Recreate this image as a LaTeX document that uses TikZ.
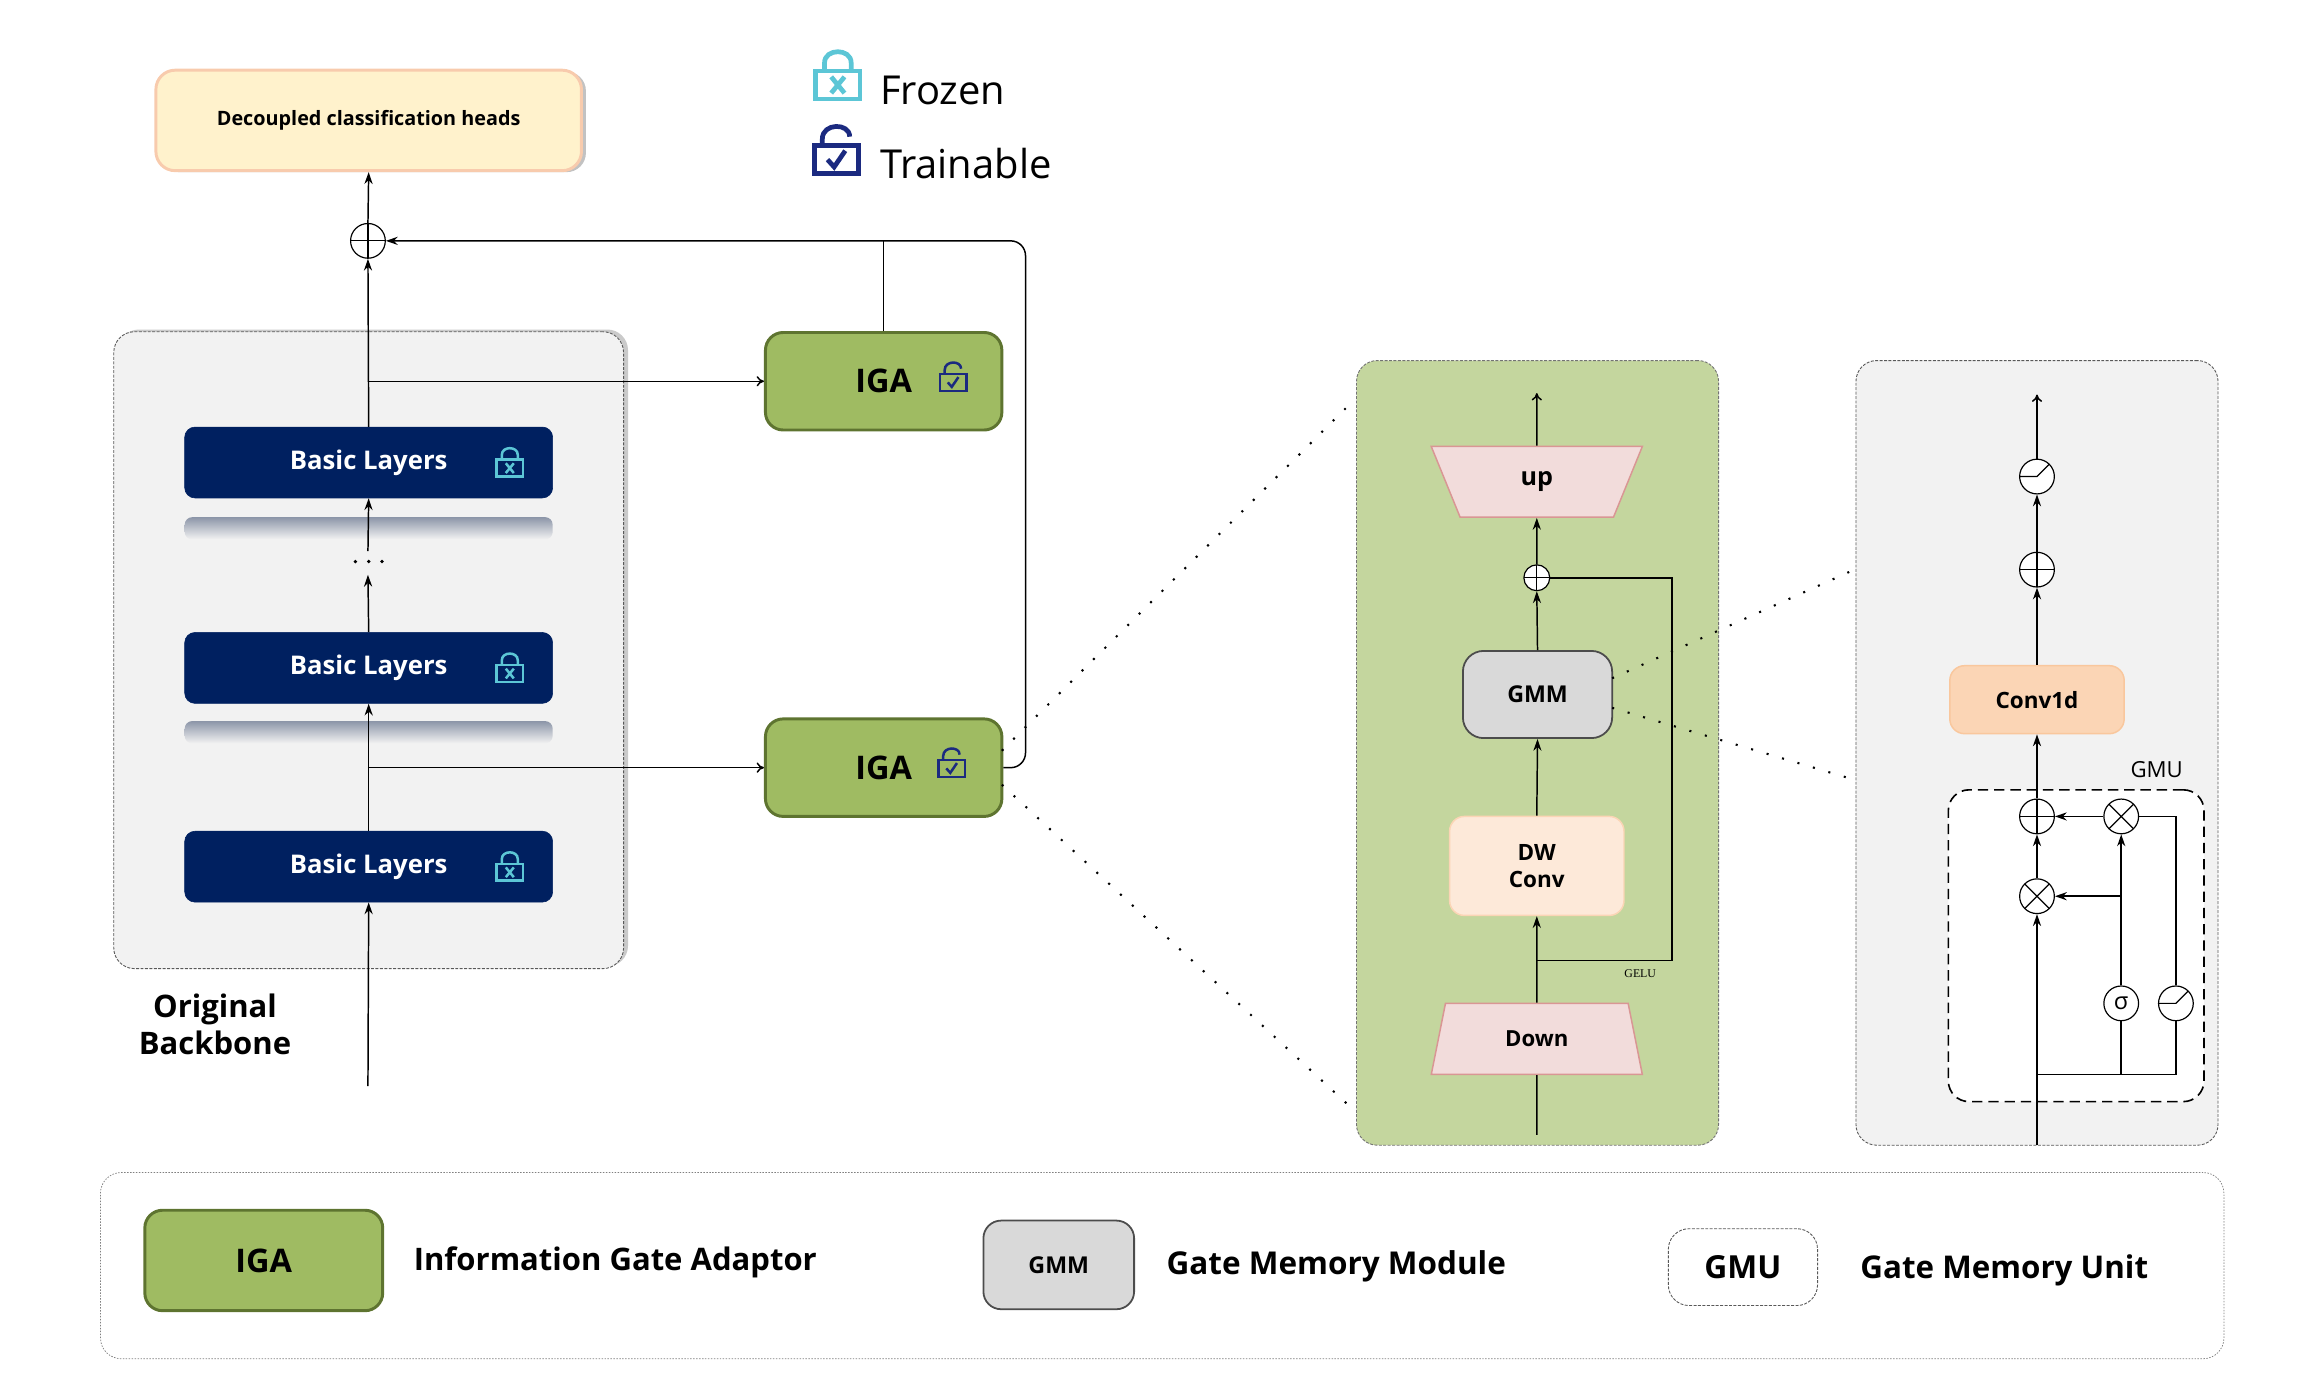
\documentclass[tikz,border=0pt]{standalone}
\usepackage{fontspec}
\setmainfont{Open Sans}
\usetikzlibrary{arrows.meta,shadows,shapes.geometric}
\newcommand{\sz}[2]{\fontsize{#1}{#2}\selectfont}
\definecolor{navy}{HTML}{002060}
\definecolor{frozencol}{HTML}{5CC6D6}
\definecolor{traincol}{HTML}{1B2A80}
\definecolor{igafill}{HTML}{9FBB62}
\definecolor{igaline}{HTML}{5E7430}
\definecolor{panelgreen}{HTML}{C4D69E}
\definecolor{panelgray}{HTML}{F2F2F2}
\definecolor{headfill}{HTML}{FFF2CC}
\definecolor{headline}{HTML}{F8CBAD}
\definecolor{samplefill}{HTML}{F2DCDB}
\definecolor{sampleline}{HTML}{D99694}
\definecolor{convlight}{HTML}{FDE9D9}
\definecolor{convdark}{HTML}{FBD5B5}
\definecolor{convline}{HTML}{F9C79D}
\tikzset{
  frozenlock/.pic={
    \draw[frozencol] (-15,-9.5) rectangle (15,9.5);
    \draw[frozencol] (-9,-10) -- (-9,-15) .. controls (-9,-25) and (9,-25) .. (9,-15) -- (9,-10);
    \draw[frozencol] (-4.5,-5.5) -- (4.5,5.5) (-4.5,5.5) -- (4.5,-5.5);
  },
  trainlock/.pic={
    \draw[traincol] (-15,-9.5) rectangle (15,9.5);
    \draw[traincol] (-9.5,-10) -- (-9.5,-14) .. controls (-9.5,-25) and (9,-25) .. (9,-15.5);
    \draw[traincol] (-6,0) -- (-1.5,5) -- (6,-6);
  }
}
\begin{document}
\begin{tikzpicture}[x=1pt,y=-1pt]
  \tikzstyle{flow}=[line width=1pt,-{Stealth[length=8pt,width=5.5pt]}]
  \tikzstyle{feed}=[line width=1pt,-{To[length=5pt,width=7pt]}]
  \tikzstyle{plain}=[line width=1pt]
  \tikzstyle{panel}=[draw=black!65,dash pattern=on 2pt off 1pt,line width=.6pt,rounded corners=14pt]
  \tikzstyle{layerbox}=[draw=navy,fill=navy,rounded corners=7pt,minimum width=249pt,minimum height=48pt,text=white,font=\bfseries\sz{17.4}{20}]
  \tikzstyle{fade}=[top color=black!35!navy!45,bottom color=panelgray,rounded corners=5pt,minimum width=249pt,minimum height=15pt,inner sep=0pt]
  \tikzstyle{igabox}=[draw=igaline,fill=igafill,line width=2pt,rounded corners=12pt,minimum width=160pt,minimum height=66pt,font=\bfseries\sz{22}{25}]
  \tikzstyle{gmmbox}=[draw=black!70,fill=black!15,line width=1.2pt,rounded corners=14pt,font=\bfseries\sz{15.7}{18}]
  \tikzstyle{sample}=[trapezium,trapezium stretches=true,trapezium left angle=73,trapezium right angle=73,draw=sampleline,fill=samplefill,line width=1pt,minimum width=143pt,minimum height=48pt,inner sep=0pt,font=\bfseries\sz{15}{18}]
  \tikzstyle{convbox}=[line width=1pt,rounded corners=10pt,font=\bfseries\sz{15.2}{18}]
  \tikzstyle{dot}=[draw,circle,fill=white,line width=.8pt,minimum size=23.5pt,inner sep=0pt]
  \tikzstyle{oplus}=[dot,path picture={\draw[line width=.8pt] (path picture bounding box.north) -- (path picture bounding box.south) (path picture bounding box.west) -- (path picture bounding box.east);}]
  \tikzstyle{otimes}=[dot,path picture={\draw[line width=.8pt] (path picture bounding box.north west) -- (path picture bounding box.south east) (path picture bounding box.south west) -- (path picture bounding box.north east);}]
  \tikzstyle{relu}=[dot,path picture={\draw[line width=.8pt] (path picture bounding box.west) -- (path picture bounding box.center) -- (path picture bounding box.north east);}]
  \useasboundingbox (0,0) rectangle (1568,942);
  % legend strip
  \node[draw=black!50,dash pattern=on 1pt off 1pt,line width=.5pt,rounded corners=14pt,minimum width=1437pt,minimum height=126pt] (legend) at (786.5,856.5) {};
  \node[igabox,minimum width=161pt,minimum height=68pt] (lgiga) at (178.5,853) {IGA};
  \node[anchor=west,font=\bfseries\sz{21}{24}] (lgigatext) at (276.5,854) {Information Gate Adaptor};
  \node[gmmbox,rounded corners=12pt,minimum width=102pt,minimum height=60pt] (lggmm) at (716.5,856) {GMM};
  \node[anchor=west,font=\bfseries\sz{21.3}{24}] (lggmmtext) at (786,857) {Gate Memory Module};
  \node[panel,fill=white,minimum width=101pt,minimum height=52pt,font=\bfseries\sz{21.5}{24}] (lggmu) at (1179.5,857.5) {GMU};
  \node[anchor=west,font=\bfseries\sz{21.2}{24}] (lggmutext) at (1255.5,860) {Gate Memory Unit};
  % frozen and trainable keys
  \path (567,57.5) pic[line width=3.2pt] {frozenlock};
  \path (566,108) pic[line width=3.2pt] {trainlock};
  \node[anchor=west,font=\sz{27}{30}] (frozentext) at (592,61) {Frozen};
  \node[anchor=west,font=\sz{27}{30}] (traintext) at (592,110.5) {Trainable};
  % backbone
  \node[panel,fill=panelgray,drop shadow={shadow xshift=3pt,shadow yshift=1.5pt,opacity=.35,fill=black!60},minimum width=345pt,minimum height=431pt] (backbone) at (249.5,440) {};
  \node[draw=headline,fill=headfill,line width=2pt,rounded corners=13pt,drop shadow={shadow xshift=3pt,shadow yshift=-1pt,opacity=.4,fill=black!60},minimum width=288pt,minimum height=68pt,font=\bfseries\sz{13.4}{15}] (head) at (249.5,81.5) {Decoupled classification heads};
  \node[oplus] (sumtop) at (249,163) {};
  \node[fade] (fadea) at (249.5,357.5) {};
  \node[fade] (fadeb) at (249.5,495.5) {};
  \foreach \n/\y in {1/313,2/452,3/586.5} {
    \node[layerbox] (layer\n) at (249.5,\y) {\raisebox{-1pt}{Basic Layers}};
    \path (345,\y+3.8) pic[scale=.6,line width=1.7pt] {frozenlock};
  }
  \foreach \n/\x in {1/240.5,2/249.5,3/258.5}
    \node[circle,fill,inner sep=.9pt] (dots\n) at (\x,380) {};
  \node[align=center,font=\bfseries\sz{21}{25}] (backname) at (145.5,693.5) {Original\\Backbone};
  \node[igabox] (igaa) at (598,258) {IGA};
  \node[igabox] (igab) at (598,519.5) {IGA};
  \path (645,258.8) pic[scale=.6,line width=1.7pt] {trainlock};
  \path (644,520) pic[scale=.6,line width=1.7pt] {trainlock};
  \coordinate (inback) at (249,735);
  \coordinate (brancha) at (249,258);
  \coordinate (branchb) at (249,519.5);
  \coordinate (dotslow) at (249,389);
  \coordinate (dotshigh) at (249,373);
  \coordinate (riser) at (694,163);
  \coordinate (riserlow) at (694,519.5);
  \coordinate (joina) at (598,163);
  \draw[flow] (inback) -- (layer3.south);
  \draw[flow] (layer3.north) -- (layer2.south);
  \draw[flow] (layer2.north) -- (dotslow);
  \draw[flow] (dotshigh) -- (layer1.south);
  \draw[flow] (layer1.north) -- (sumtop.south);
  \draw[flow] (sumtop.north) -- (head.south);
  \draw[feed] (brancha) -- (igaa.west);
  \draw[feed] (branchb) -- (igab.west);
  \draw[plain] (igaa.north) -- (joina);
  \draw[flow,rounded corners=10pt] (igab.east) -- (riserlow) -- (riser) -- (sumtop.east);
  % green panel
  \node[panel,draw=black!55,fill=panelgreen,minimum width=245pt,minimum height=531pt] (iganet) at (1040.5,509.5) {};
  \node[sample,shape border rotate=180,font=\bfseries\sz{17}{20}] (up) at (1040,326) {\raisebox{-1.5pt}{up}};
  \node[sample] (down) at (1040,703) {Down};
  \node[oplus,minimum size=17.5pt] (sumgate) at (1040,391) {};
  \node[gmmbox,minimum width=101pt,minimum height=59pt] (gmm) at (1040.5,470) {GMM};
  \node[convbox,draw=convdark,fill=convlight,align=center,minimum width=118pt,minimum height=67pt] (dwconv) at (1040,586) {DW\\Conv};
  \coordinate (outgate) at (1040,266);
  \coordinate (ingate) at (1040,768);
  \coordinate (tapgate) at (1040,650);
  \coordinate (tapright) at (1131.5,650);
  \coordinate (tapup) at (1131.5,391);
  \draw[feed] (up.north) -- (outgate);
  \draw[flow] (sumgate.north) -- (up.south);
  \draw[flow] (gmm.north) -- (sumgate.south);
  \draw[flow] (dwconv.north) -- (gmm.south);
  \draw[flow] (down.north) -- (dwconv.south);
  \draw[plain] (ingate) -- (down.south);
  \draw[plain] (tapgate) -- (tapright) -- (tapup) -- (sumgate.east);
  \node[font=\fontspec{Liberation Serif}\sz{8}{9}] (gelu) at (1110,659) {GELU};
  % gray panel
  \node[panel,fill=panelgray,minimum width=245pt,minimum height=531pt] (gmmnet) at (1378.5,509.5) {};
  \node[panel,draw=black,fill=white,dash pattern=on 7pt off 4pt,line width=1.1pt,minimum width=173pt,minimum height=211pt] (gmubox) at (1405,640) {};
  \node[font=\sz{15}{17}] (gmuname) at (1459.5,521) {GMU};
  \node[relu] (relutop) at (1378.5,322.5) {};
  \node[oplus] (sumconv) at (1378.5,385.5) {};
  \node[convbox,draw=convline,fill=convdark,minimum width=118pt,minimum height=46pt] (conv) at (1378.5,473.5) {Conv1d};
  \node[oplus] (sumgmu) at (1378.5,552.5) {};
  \node[otimes] (timesa) at (1378.5,606.5) {};
  \node[otimes] (timesb) at (1435.5,552.5) {};
  \node[dot,font=\sz{16}{18}] (sigma) at (1435.5,679) {σ};
  \node[relu] (relulow) at (1472.5,679) {};
  \coordinate (outmem) at (1378.5,267);
  \coordinate (inmem) at (1378.5,775);
  \coordinate (tapmem) at (1378.5,727);
  \coordinate (tapsigma) at (1435.5,727);
  \coordinate (taprelu) at (1472.5,727);
  \coordinate (gatejoin) at (1435.5,606.5);
  \coordinate (reluup) at (1472.5,552.5);
  \draw[feed] (relutop.north) -- (outmem);
  \draw[flow] (sumconv.north) -- (relutop.south);
  \draw[flow] (conv.north) -- (sumconv.south);
  \draw[flow] (sumgmu.north) -- (conv.south);
  \draw[flow] (timesa.north) -- (sumgmu.south);
  \draw[flow] (inmem) -- (timesa.south);
  \draw[flow] (timesb.west) -- (sumgmu.east);
  \draw[flow] (sigma.north) -- (timesb.south);
  \draw[flow] (gatejoin) -- (timesa.east);
  \draw[plain] (relulow.north) -- (reluup) -- (timesb.east);
  \draw[plain] (tapmem) -- (taprelu) -- (relulow.south);
  \draw[plain] (tapsigma) -- (sigma.south);
  % zoom guides
  \tikzstyle{guide}=[line width=1.4pt,dash pattern=on 1.4pt off 9.5pt]
  \coordinate (igaup) at (678,508);
  \coordinate (igalow) at (678,531);
  \coordinate (netup) at (917,270);
  \coordinate (netlow) at (917,752);
  \coordinate (gmmup) at (1091,459);
  \coordinate (gmmlow) at (1091,479);
  \coordinate (memup) at (1256,385);
  \coordinate (memlow) at (1256,528);
  \draw[guide] (igaup) -- (netup);
  \draw[guide] (igalow) -- (netlow);
  \draw[guide] (gmmup) -- (memup);
  \draw[guide] (gmmlow) -- (memlow);
\end{tikzpicture}
\end{document}
